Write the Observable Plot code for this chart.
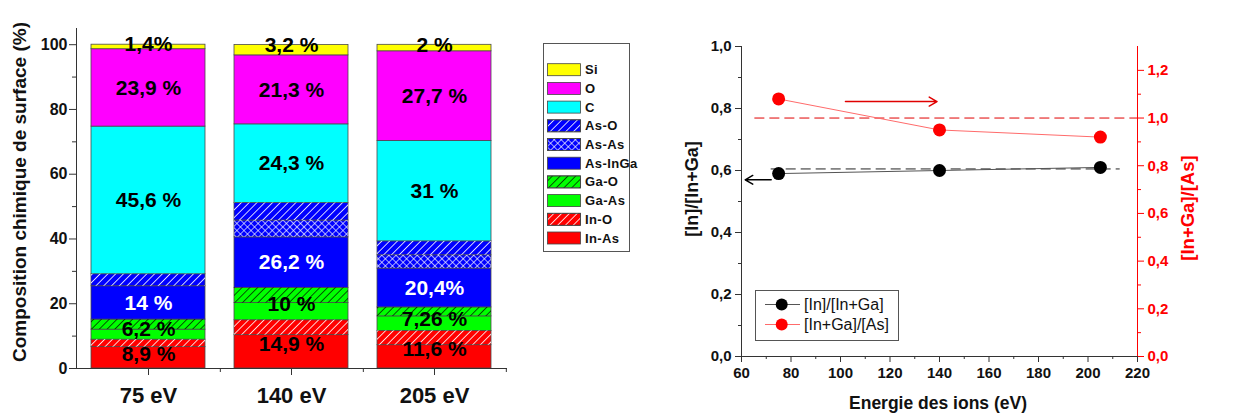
<!DOCTYPE html>
<html><head><meta charset="utf-8">
<script src="https://cdn.jsdelivr.net/npm/d3@7"></script>
<script src="https://cdn.jsdelivr.net/npm/@observablehq/plot@0.6"></script>
<style>
body{margin:0;background:#fff;font-family:"Liberation Sans",Arial,sans-serif;}
#wrap{position:relative;width:1234px;height:416px;overflow:hidden;background:#fff;}
.title{position:absolute;font-weight:bold;white-space:nowrap;transform:translate(-50%,-50%);color:#111;}
.rot{transform:translate(-50%,-50%) rotate(-90deg);}
</style></head><body>
<div id="wrap">
<svg width="0" height="0" style="position:absolute"><defs>
<pattern id="hatchW" width="5.5" height="5.5" patternUnits="userSpaceOnUse" patternTransform="rotate(45)"><line x1="0" y1="0" x2="0" y2="5.5" stroke="#fff" stroke-width="1.6"/></pattern>
<pattern id="hatchK" width="5.5" height="5.5" patternUnits="userSpaceOnUse" patternTransform="rotate(45)"><line x1="0" y1="0" x2="0" y2="5.5" stroke="#000" stroke-width="1.3"/></pattern>
<pattern id="cross" width="5" height="5" patternUnits="userSpaceOnUse" patternTransform="rotate(45)"><line x1="0" y1="0" x2="0" y2="5" stroke="#fff" stroke-width="1.3"/><line x1="0" y1="0" x2="5" y2="0" stroke="#fff" stroke-width="1.3"/></pattern>
</defs></svg>
</div>
<script>
// ---------- data: left chart ----------
const energies = ["75 eV", "140 eV", "205 eV"];
const components = ["In-As", "In-O", "Ga-As", "Ga-O", "As-InGa", "As-As", "As-O", "C", "O", "Si"];
const values75 = [6.6, 2.3, 3.1, 3.1, 10.3, 0, 3.7, 45.6, 23.9, 1.4];
const values140 = [10.3, 4.6, 5.3, 4.7, 15.6, 5.2, 5.4, 24.3, 21.3, 3.2];
const values205 = [7.2, 4.4, 4.5, 2.76, 12.0, 4.1, 4.3, 31, 27.7, 2];
const labels75 = ["8,9 %", "6,2 %", "14 %", "45,6 %", "23,9 %", "1,4%"];
const labels140 = ["14,9 %", "10 %", "26,2 %", "24,3 %", "21,3 %", "3,2 %"];
const labels205 = ["11,6 %", "7,26 %", "20,4%", "31 %", "27,7 %", "2 %"];
const yTicksLeft = [0, 20, 40, 60, 80, 100];
const yMinorLeft = [10, 30, 50, 70, 90];

// ---------- data: right chart ----------
const ionEnergy = [75, 140, 205];
const ratioInInGa = [0.59, 0.60, 0.61];
const ratioInGaAs = [1.08, 0.95, 0.92];
const refInInGa = 0.605;
const refInGaAs = 1.0;
const xTicksRight = [60, 80, 100, 120, 140, 160, 180, 200, 220];
const xMinorRight = [70, 90, 110, 130, 150, 170, 190, 210];
const yTicksRightL = [0, 0.2, 0.4, 0.6, 0.8, 1.0];
const yMinorRightL = [0.1, 0.3, 0.5, 0.7, 0.9];
const yTicksRightR = [0, 0.2, 0.4, 0.6, 0.8, 1.0, 1.2];
const yMinorRightR = [0.1, 0.3, 0.5, 0.7, 0.9, 1.1];
const blackArrow = [{x1: 72, x2: 61.5, y: 0.57}];
const redArrow = [{x1: 102, x2: 139, y: 1.069}];

// ---------- styles ----------
const FONT = '"Liberation Sans", Arial, sans-serif';
const compColor = {"In-As":"#ff0000","In-O":"#ff0000","Ga-As":"#00ff00","Ga-O":"#00ff00","As-InGa":"#0000ff","As-As":"#0000ff","As-O":"#0000ff","C":"#00ffff","O":"#ff00ff","Si":"#ffff00"};
const compPattern = {"In-O":"url(#hatchW)","Ga-O":"url(#hatchK)","As-As":"url(#cross)","As-O":"url(#hatchW)"};

const series = [values75, values140, values205];
const labelSets = [labels75, labels140, labels205];
const rows = energies.flatMap((e, i) => components.map((c, j) => ({energy: e, comp: c, value: series[i][j]}))).filter(d => d.value > 0);

const groups = [[0, 1], [2, 3], [4, 6], [7, 7], [8, 8], [9, 9]];
const labelRows = [];
energies.forEach((e, i) => {
  const v = series[i];
  const cum = [0]; v.forEach((x, k) => cum.push(cum[k] + x));
  groups.forEach((g, gi) => {
    let y;
    if (gi === 2) y = (cum[4] + cum[5]) / 2;
    else if (gi === 5) y = cum[10];
    else y = (cum[g[0]] + cum[g[1] + 1]) / 2;
    labelRows.push({energy: e, y, label: labelSets[i][gi], tc: gi === 2 ? "#ffffff" : "#000000"});
  });
});

const wrap = document.getElementById("wrap");
function place(node, left, top) {
  node.style.position = "absolute"; node.style.left = left + "px"; node.style.top = top + "px";
  wrap.appendChild(node);
}

// ---------- left chart ----------
const LW = 540, LML = 76, LMR = 33;
const step = (LW - LML - LMR) / energies.length;
const left = Plot.plot({
  width: LW, height: 416, marginLeft: LML, marginRight: LMR, marginTop: 28, marginBottom: 48,
  x: {domain: energies, paddingInner: 0.2, paddingOuter: 0.1},
  y: {domain: [0, 105]},
  color: {type: "identity"},
  style: {background: "transparent", fontFamily: FONT, color: "#111"},
  marks: [
    Plot.barY(rows, Plot.stackY({x: "energy", y: "value", z: "comp", fill: d => compColor[d.comp], stroke: "#4a4a4a", strokeWidth: 0.8})),
    Plot.barY(rows, Plot.stackY({x: "energy", y: "value", z: "comp", fill: d => compPattern[d.comp] || "none"})),
    Plot.text(labelRows, {x: "energy", y: "y", text: "label", fill: "tc", fontSize: 21, fontWeight: "bold"}),
    Plot.frame({anchor: "left", stroke: "#333"}),
    Plot.ruleY([0], {stroke: "#333"}),
    Plot.axisY(yTicksLeft, {tickSize: 7, tickPadding: 2, fontSize: 16, fontWeight: "bold", label: null, stroke: "#333"}),
    Plot.axisY(yMinorLeft, {tickSize: 4, fill: "none", label: null, stroke: "#333"}),
    Plot.axisX({tickSize: 7, tickPadding: 12, fontSize: 22, fontWeight: "bold", label: null, stroke: "#333"}),
    Plot.axisX({tickSize: 4, dx: step / 2, fill: "none", label: null, stroke: "#333"})
  ]
});
place(left, 0, 0);

// legend left
const legendItems = components.slice().reverse();
const lg = d3.create("svg").attr("width", 100).attr("height", 225);
lg.append("rect").attr("x", 3.5).attr("y", 3.5).attr("width", 86).attr("height", 208).attr("fill", "#fff").attr("stroke", "#555");
legendItems.forEach((c, i) => {
  const cy = 29.7 + 18.7 * i;
  const g = lg.append("g");
  g.append("rect").attr("x", 7.5).attr("y", cy - 6).attr("width", 33).attr("height", 12).attr("fill", compColor[c]).attr("stroke", "#444").attr("stroke-width", 0.8);
  if (compPattern[c]) g.append("rect").attr("x", 7.5).attr("y", cy - 6).attr("width", 33).attr("height", 12).attr("fill", compPattern[c]).attr("stroke", "#444").attr("stroke-width", 0.8);
  g.append("text").attr("x", 45).attr("y", cy).attr("dy", "0.35em").attr("font-family", FONT).attr("font-weight", "bold").attr("font-size", 13).attr("letter-spacing", "0.4px").attr("fill", "#111").text(c);
});
place(lg.node(), 540, 40);

// left title
const t1 = document.createElement("div"); t1.className = "title rot"; t1.style.fontSize = "19px";
t1.textContent = "Composition chimique de surface (%)"; t1.style.left = "20px"; t1.style.top = "192px"; wrap.appendChild(t1);

// ---------- right chart ----------
const fmt1 = d => d.toFixed(1).replace(".", ",");
const blackRows = ionEnergy.map((e, i) => ({e, v: ratioInInGa[i]}));
const redRows = ionEnergy.map((e, i) => ({e, v: ratioInGaAs[i]}));
const RW = 574, common = {width: RW, height: 416, marginLeft: 81, marginRight: 97, marginTop: 46, marginBottom: 60};

const rA = Plot.plot({
  ...common,
  x: {domain: [60, 220]}, y: {domain: [0, 1]},
  style: {background: "transparent", fontFamily: FONT, color: "#111"},
  marks: [
    Plot.ruleX([60], {stroke: "#333"}),
    Plot.ruleY([0], {stroke: "#333"}),
    Plot.axisX(xTicksRight, {tickSize: 6, tickPadding: 5, fontSize: 15, fontWeight: "bold", label: null, tickFormat: d => d, stroke: "#333"}),
    Plot.axisX(xMinorRight, {tickSize: 3, fill: "none", label: null, stroke: "#333"}),
    Plot.axisY(yTicksRightL, {tickSize: 6, tickPadding: 4, fontSize: 15, fontWeight: "bold", label: null, tickFormat: fmt1, stroke: "#333"}),
    Plot.axisY(yMinorRightL, {tickSize: 3, fill: "none", label: null, stroke: "#333"}),
    Plot.ruleY([refInInGa], {x1: 72, x2: 213, stroke: "#222", strokeDasharray: "10,5"}),
    Plot.line(blackRows, {x: "e", y: "v", stroke: "#555", strokeWidth: 1}),
    Plot.dot(blackRows, {x: "e", y: "v", r: 6.5, fill: "#000"}),
    Plot.arrow(blackArrow, {x1: "x1", y1: "y", x2: "x2", y2: "y", stroke: "#000", strokeWidth: 1.5, headLength: 9})
  ]
});
place(rA, 660, 0);

const rB = Plot.plot({
  ...common,
  x: {domain: [60, 220], axis: null}, y: {domain: [0, 1.3]},
  style: {background: "transparent", fontFamily: FONT, color: "#ff0000"},
  marks: [
    Plot.ruleX([220], {stroke: "#ff0000"}),
    Plot.axisY(yTicksRightR, {anchor: "right", tickSize: 6, tickPadding: 4, fontSize: 15, fontWeight: "bold", label: null, tickFormat: fmt1, stroke: "#ff0000", fill: "#ff0000"}),
    Plot.axisY(yMinorRightR, {anchor: "right", tickSize: 3, fill: "none", label: null, stroke: "#ff0000"}),
    Plot.ruleY([refInGaAs], {x1: 65.4, x2: 220, stroke: "#e00000", strokeDasharray: "10,5"}),
    Plot.line(redRows, {x: "e", y: "v", stroke: "#ff6b6b", strokeWidth: 1}),
    Plot.dot(redRows, {x: "e", y: "v", r: 6.5, fill: "#ff0000"}),
    Plot.arrow(redArrow, {x1: "x1", y1: "y", x2: "x2", y2: "y", stroke: "#e00000", strokeWidth: 1.5, headLength: 9})
  ]
});
place(rB, 660, 0);

// right legend
const rl = d3.create("svg").attr("width", 160).attr("height", 70);
rl.append("rect").attr("x", 5.5).attr("y", 5.5).attr("width", 143).attr("height", 50).attr("fill", "#fff").attr("stroke", "#555");
[["[In]/[In+Ga]", "#555", "#000"], ["[In+Ga]/[As]", "#ff6b6b", "#ff0000"]].forEach(([t, lc, dc], i) => {
  const cy = 19.5 + 20 * i;
  rl.append("line").attr("x1", 15).attr("x2", 50).attr("y1", cy).attr("y2", cy).attr("stroke", lc);
  rl.append("circle").attr("cx", 31.7).attr("cy", cy).attr("r", 6).attr("fill", dc);
  rl.append("text").attr("x", 54).attr("y", cy).attr("dy", "0.35em").attr("font-family", FONT).attr("font-size", 16).attr("fill", "#111").text(t);
});
place(rl.node(), 750, 285);

function addTitle(text, x, y, size, rot, color) {
  const d = document.createElement("div"); d.className = "title" + (rot ? " rot" : "");
  d.style.fontSize = size + "px"; d.style.left = x + "px"; d.style.top = y + "px";
  if (color) d.style.color = color; d.textContent = text; wrap.appendChild(d);
}
addTitle("[In]/[In+Ga]", 692, 189, 18, true);
addTitle("[In+Ga]/[As]", 1188, 208, 18.5, true, "#ff0000");
addTitle("Energie des ions (eV)", 938, 403, 17.5, false);
</script>
</body></html>
